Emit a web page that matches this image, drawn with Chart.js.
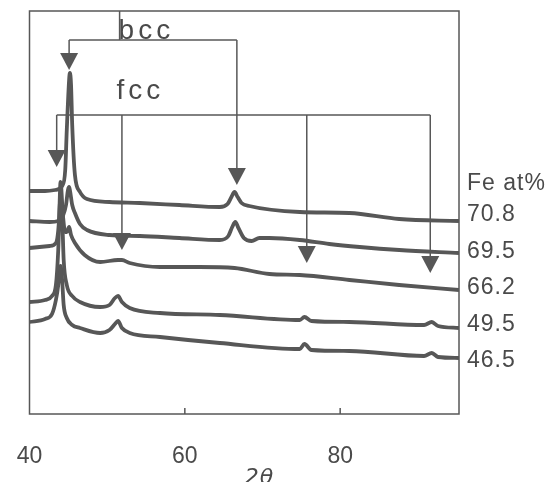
<!DOCTYPE html>
<html><head><meta charset="utf-8">
<script src="https://cdn.jsdelivr.net/npm/chart.js@4/dist/chart.umd.min.js"></script>
<style>html,body{margin:0;padding:0;background:#fff}#wrap{width:557px;height:482px}</style>
</head><body><div id="wrap"><canvas id="c" width="557" height="482"></canvas></div>
<script>
// ---- data (2θ in degrees, intensity in arbitrary units, curves offset) ----
const seriesNames = ['70.8', '69.5', '66.2', '49.5', '46.5'];
const legendTitle = 'Fe at%';
const xTickValues = [40, 60, 80];
const xTitle = '2θ';
const fe708 = [[40,223],[42,223],[43.3,224],[44.2,228],[44.6,244],[44.8,284],[45.1,334],[45.2,341],[45.35,329],[45.5,289],[45.85,239],[46.5,222],[47.4,215],[50.3,212],[54.2,211],[59.3,209],[64.5,207],[65.5,210],[66,217],[66.4,222],[66.8,217],[67.3,211],[68.3,208],[74.8,202],[81.2,201],[87.6,195],[95.3,193]];
const fe695 = [[40,193],[42.6,192],[43.7,193],[44.3,198],[44.7,209],[44.95,224],[45.1,227],[45.2,224],[45.5,209],[45.85,201],[46.5,190],[47.4,184],[50.3,179],[54.2,178],[59.3,176],[64.5,174],[65.6,178],[66.1,187],[66.5,192],[66.9,186],[67.6,176],[68.6,173],[69.6,176],[70.9,176],[74.8,174],[78.6,170],[82.5,167],[87.6,164],[95.3,161]];
const fe662 = [[40,166],[42.6,168],[43.4,171],[43.8,194],[44,232],[44.3,199],[44.6,182],[44.8,182],[45.1,187],[45.35,179],[45.85,171],[47.1,159],[49.1,152],[51.4,154],[51.9,154],[52.9,151],[56.8,147],[61.9,147],[66.4,146],[70.9,140],[74.8,139],[81.2,134],[87.6,129],[95.3,124]];
const fe495 = [[40,112],[42,114],[42.9,118],[43.4,129],[43.7,164],[43.9,209],[44,214],[44.2,199],[44.4,154],[44.8,129],[45.5,118],[46.5,112],[49.1,107],[50.3,109],[51,116],[51.4,118],[51.9,112],[52.9,106],[56.8,101],[64.5,99],[74.8,94],[75.4,97],[76.3,93],[81.2,92],[90.8,89],[91.8,92],[92.6,88],[95.3,86]];
const fe465 = [[40,92],[42,95],[42.9,100],[43.4,114],[43.7,129],[43.9,146],[44,148],[44.2,134],[44.4,109],[44.8,96],[45.5,89],[46.5,86],[49.1,81],[50.3,84],[51,90],[51.4,93],[51.9,86],[52.9,81],[56.8,77],[64.5,71],[74.8,65],[75.4,70],[76.3,64],[81.2,63],[90.8,58],[91.8,61],[92.6,57],[95.3,56]];
// peak markers (2θ) and arrow tip intensities
const bccPeaks = [45.1, 66.7];
const bccTips = [344, 229];
const fccPeaks = [43.5, 51.9, 75.7, 91.6];
const fccTips = [247, 164, 151, 141];

const allSeries = [fe708, fe695, fe662, fe495, fe465];
const INK = '#4a4a4a';
const LINE = '#575757';

const annot = {
  id: 'annot',
  afterDatasetsDraw(chart) {
    const {ctx, chartArea: a, scales: {x, y}} = chart;
    ctx.save();
    ctx.strokeStyle = LINE; ctx.fillStyle = LINE; ctx.lineWidth = 1.5;
    const seg = (x1, y1, x2, y2) => { ctx.beginPath(); ctx.moveTo(x1, y1); ctx.lineTo(x2, y2); ctx.stroke(); };
    const arrow = (px, tip) => { ctx.beginPath(); ctx.moveTo(px, tip); ctx.lineTo(px - 9, tip - 17); ctx.lineTo(px + 9, tip - 17); ctx.closePath(); ctx.fill(); };
    // frame
    ctx.strokeRect(a.left, a.top, a.right - a.left, a.bottom - a.top);
    // inner ticks
    xTickValues.forEach(v => { if (v > x.min) { const px = x.getPixelForValue(v); seg(px, a.bottom, px, a.bottom - 6); } });
    // bcc bracket
    const bY = y.getPixelForValue(374);
    seg(x.getPixelForValue(bccPeaks[0]), bY, x.getPixelForValue(bccPeaks[bccPeaks.length - 1]), bY);
    const bLab = x.getPixelForValue(51.6);
    seg(bLab, a.top, bLab, bY);
    bccPeaks.forEach((p, i) => { const px = x.getPixelForValue(p); const t = y.getPixelForValue(bccTips[i]); seg(px, bY, px, t - 10); arrow(px, t); });
    // fcc bracket
    const fY = y.getPixelForValue(299);
    seg(x.getPixelForValue(fccPeaks[0]), fY, x.getPixelForValue(fccPeaks[fccPeaks.length - 1]), fY);
    fccPeaks.forEach((p, i) => { const px = x.getPixelForValue(p); const t = y.getPixelForValue(fccTips[i]); seg(px, fY, px, t - 10); arrow(px, t); });
    // texts
    ctx.fillStyle = INK;
    ctx.font = '28px "Liberation Sans", Arial, sans-serif';
    ctx.letterSpacing = '4px';
    ctx.textAlign = 'left'; ctx.textBaseline = 'alphabetic';
    ctx.fillText('bcc', bLab - 1, y.getPixelForValue(375));
    ctx.fillText('fcc', x.getPixelForValue(51.2), y.getPixelForValue(315));
    ctx.font = '23px "Liberation Sans", Arial, sans-serif';
    ctx.letterSpacing = '1px';
    ctx.textBaseline = 'middle';
    const lx = a.right + 8;
    const y0 = y.getPixelForValue(199);
    ctx.fillText(legendTitle, lx, y0 - 31.5);
    seriesNames.forEach((n, i) => ctx.fillText(n, lx, y0 + i * 36.5));
    ctx.font = 'italic 22px "DejaVu Sans", sans-serif';
    ctx.letterSpacing = '1px';
    ctx.textAlign = 'center';
    ctx.fillText(xTitle, x.getPixelForValue(69.6), 478);
    ctx.restore();
  }
};

new Chart(document.getElementById('c'), {
  type: 'line',
  data: {
    datasets: allSeries.map((s, i) => ({
      label: seriesNames[i],
      data: s.map(p => ({x: p[0], y: p[1]})),
      borderColor: LINE,
      borderWidth: 3.8,
      pointRadius: 0,
      cubicInterpolationMode: 'monotone',
      fill: false
    }))
  },
  options: {
    responsive: false, animation: false, devicePixelRatio: 1,
    layout: {padding: {left: 29.5, right: 98, top: 11, bottom: 0}},
    plugins: {legend: {display: false}, tooltip: {enabled: false}},
    scales: {
      x: {
        type: 'linear', min: 40, max: 95.3,
        grid: {display: false, drawTicks: false}, border: {display: false},
        afterBuildTicks: s => { s.ticks = xTickValues.map(v => ({value: v})); },
        afterFit: s => { s.height = 68; s.paddingLeft = 0; s.paddingRight = 0; },
        ticks: {font: {family: '"Liberation Sans", Arial, sans-serif', size: 23}, color: INK, padding: 29, maxRotation: 0, autoSkip: false}
      },
      y: {type: 'linear', min: 0, max: 403, display: false}
    }
  },
  plugins: [annot]
});
</script>
</body></html>
